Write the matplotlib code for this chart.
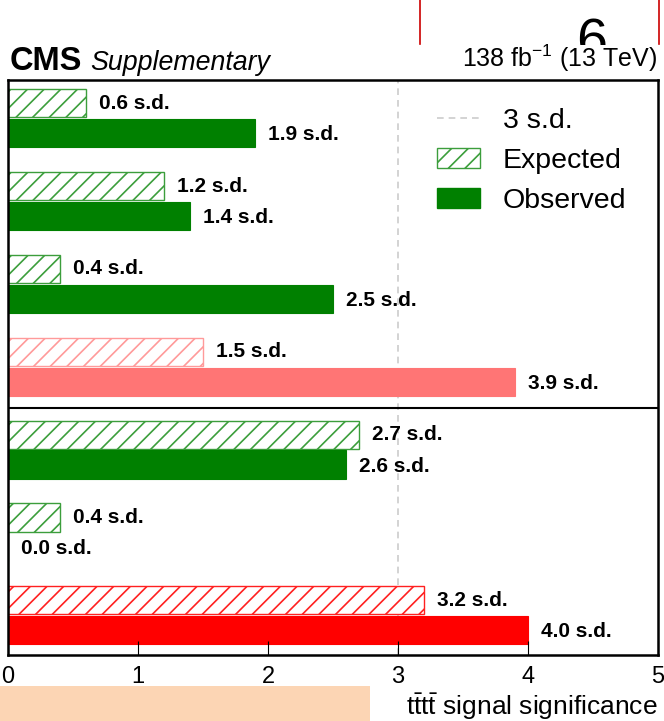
import matplotlib
matplotlib.use("Agg")
import matplotlib.pyplot as plt
from matplotlib.patches import Patch, Rectangle
from matplotlib.lines import Line2D

plt.rcParams['font.family'] = ['Liberation Sans', 'DejaVu Sans']
plt.rcParams['mathtext.fontset'] = 'custom'
plt.rcParams['mathtext.rm'] = 'Liberation Sans'
plt.rcParams['mathtext.it'] = 'Liberation Sans:italic'
plt.rcParams['mathtext.bf'] = 'Liberation Sans:bold'
plt.rcParams['hatch.linewidth'] = 1.2

# Significance per analysis (top to bottom)
expected = [0.6, 1.2, 0.4, 1.5, 2.7, 0.4, 3.2]
observed = [1.9, 1.4, 2.5, 3.9, 2.6, 0.0, 4.0]
fill_colors = ['#008000', '#008000', '#008000', '#ff7575', '#008000', '#008000', '#ff0000']
hatch_colors = ['#3c9e3c', '#3c9e3c', '#3c9e3c', '#ff9a9a', '#3c9e3c', '#3c9e3c', '#ff2020']
threshold = 3.0

fig = plt.figure(figsize=(6.64, 7.21), dpi=100)
ax = fig.add_axes([8 / 664, 1 - 655 / 721, 650 / 664, 575 / 721])

n = len(expected)
ypos = [n - 1 - i for i in range(n)]
h = 0.34
off = 0.18

for y, e, o, fc, hc in zip(ypos, expected, observed, fill_colors, hatch_colors):
    ax.barh(y + off, e, height=h, color='white', edgecolor=hc, hatch='//', linewidth=1.0)
    ax.barh(y - off, o, height=h, color=fc, edgecolor=fc, linewidth=0.8)
    ax.text(e + 0.1, y + off, f"{e:.1f} s.d.", ha='left', va='center',
            fontsize=15, fontweight='bold')
    ax.text(o + 0.1, y - off - 0.02, f"{o:.1f} s.d.", ha='left', va='center',
            fontsize=15, fontweight='bold')

ax.axvline(threshold, color='#cccccc', linestyle=(0, (4, 3)), linewidth=1.2, zorder=0)
ax.axhline(2.5, color='black', linewidth=1.5)

ax.set_xlim(0, 5)
ax.set_ylim(-0.48, 6.46)
ax.set_yticks([])
ax.set_xticks([0, 1, 2, 3, 4, 5])
ax.tick_params(axis='x', direction='in', length=10, width=0.8, labelsize=17, pad=8)
for s in ax.spines.values():
    s.set_linewidth(1.8)

ax.set_xlabel(r"$\mathrm{t\bar{t}t\bar{t}}$ signal significance",
              fontsize=19, loc='right', labelpad=2)

handles = [
    Line2D([], [], color='#cccccc', linestyle=(0, (4, 3)), linewidth=1.2),
    Patch(facecolor='white', edgecolor='#3c9e3c', hatch='//', linewidth=1.0),
    Patch(facecolor='#008000', edgecolor='#008000'),
]
ax.legend(handles, ["3 s.d.", "Expected", "Observed"], loc='upper left',
          bbox_to_anchor=(435 / 664 - 8 / 664, 1.0 - 17 / 575), bbox_transform=ax.transAxes,
          frameon=False, fontsize=20.5, handlelength=1.5, handleheight=0.7,
          handletextpad=0.8, labelspacing=0.48, borderaxespad=0)

fig.text(10 / 664, 1 - 70 / 721, "CMS", fontsize=23.5, fontweight='bold', ha='left', va='baseline')
fig.text(90 / 664, 1 - 70 / 721, "Supplementary", fontsize=19.3, fontstyle='italic',
         ha='left', va='baseline')
fig.text(657 / 664, 1 - 67 / 721, r"138 fb$^{-1}$ (13 TeV)", fontsize=18,
         ha='right', va='baseline')

# slide decorations around the figure
fig.add_artist(Line2D([420 / 664, 420 / 664], [1.0, 1 - 44 / 721], color='#cc0000', linewidth=1.2))
fig.add_artist(Line2D([659 / 664, 659 / 664], [1.0, 1 - 44 / 721], color='#cc0000', linewidth=1.2))
page = fig.text(592 / 664, 1 - 58 / 721, "6", fontsize=40, ha='center', va='baseline', zorder=0)
page.set_clip_path(Rectangle((0, 1 - 45 / 721), 1, 45 / 721, transform=fig.transFigure))
fig.add_artist(Rectangle((0, 0), 370 / 664, 35 / 721, transform=fig.transFigure,
                         facecolor='#fcd5b4', edgecolor='none'))

fig.savefig("out.png", dpi=100)
